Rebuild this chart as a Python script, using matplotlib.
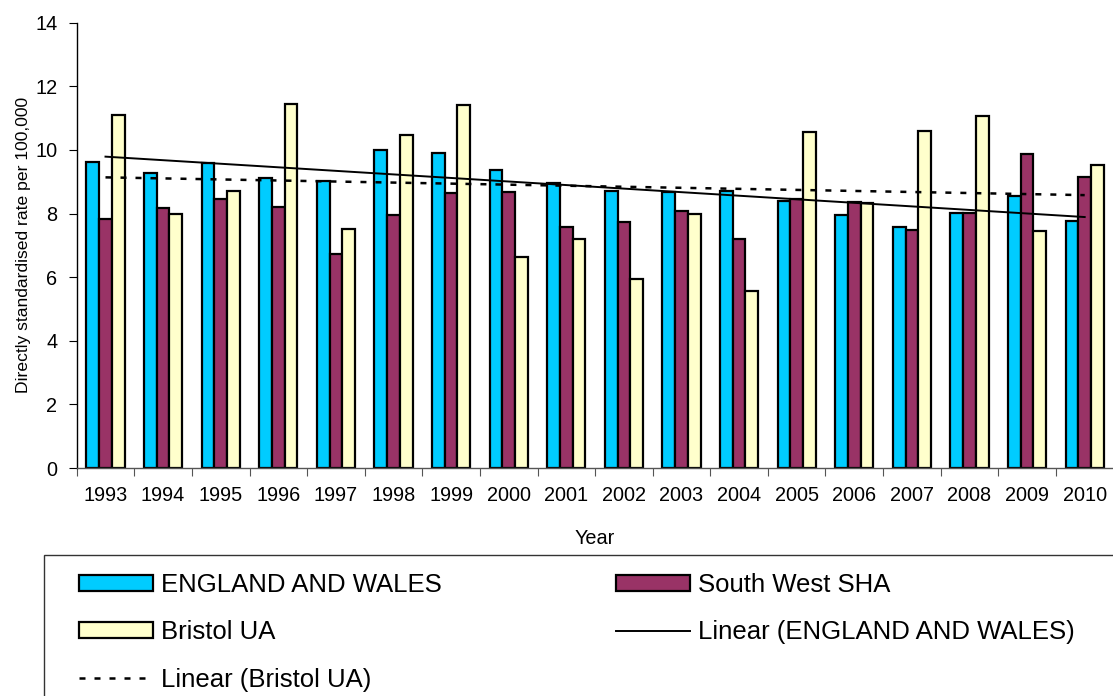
import numpy as np
import matplotlib.pyplot as plt
from matplotlib.patches import Rectangle

plt.rcParams['font.family'] = ['Liberation Sans', 'DejaVu Sans']

years = ['1993', '1994', '1995', '1996', '1997', '1998', '1999', '2000', '2001',
         '2002', '2003', '2004', '2005', '2006', '2007', '2008', '2009', '2010']
england_wales = [9.61, 9.26, 9.58, 9.11, 9.02, 9.99, 9.90, 9.36, 8.95,
                 8.70, 8.67, 8.71, 8.39, 7.94, 7.58, 8.03, 8.54, 7.77]
south_west = [7.84, 8.16, 8.46, 8.19, 6.72, 7.96, 8.64, 8.68, 7.59,
              7.72, 8.09, 7.20, 8.46, 8.35, 7.48, 8.03, 9.88, 9.16]
bristol = [11.10, 7.98, 8.71, 11.44, 7.51, 10.46, 11.42, 6.63, 7.20,
           5.94, 7.97, 5.56, 10.57, 8.34, 10.58, 11.06, 7.45, 9.53]

W, H = 1113, 696
fig = plt.figure(figsize=(W / 100, H / 100), dpi=100)
ax = fig.add_axes([76.7 / W, 1 - 468 / H, 1036.8 / W, 445.3 / H])

x = np.arange(len(years))
bw = 0.22
b_ew = ax.bar(x - bw, england_wales, bw, color='#00CCFF', edgecolor='black', linewidth=1.6)
b_sw = ax.bar(x, south_west, bw, color='#993366', edgecolor='black', linewidth=1.6)
b_br = ax.bar(x + bw, bristol, bw, color='#FFFFCC', edgecolor='black', linewidth=1.6)

# linear trend lines through the category centres
k, c = np.polyfit(x, england_wales, 1)
l_ew, = ax.plot(x, k * x + c, color='black', lw=1.4)
k, c = np.polyfit(x, bristol, 1)
l_br, = ax.plot(x, k * x + c, color='black', lw=1.8, dashes=(2.4, 3.6))

ax.set_xlim(-0.5, len(years) - 0.5)
ax.set_ylim(0, 14)
ax.set_yticks(np.arange(0, 15, 2))
ax.tick_params(axis='y', labelsize=14.3, length=6, direction='out', pad=8)

# tick marks between groups, labels centred under them
ax.set_xticks(np.arange(len(years) + 1) - 0.5)
ax.set_xticklabels([])
ax.set_xticks(x, minor=True)
ax.set_xticklabels(years, minor=True, fontsize=14.3)
ax.tick_params(axis='x', which='major', length=6, color='#555555')
ax.tick_params(axis='x', which='minor', length=0, pad=13)

for s in ['top', 'right']:
    ax.spines[s].set_visible(False)
ax.spines['left'].set_linewidth(1.0)
ax.spines['bottom'].set_color('#555555')
ax.spines['bottom'].set_linewidth(1.0)

ax.set_ylabel('Directly standardised rate per 100,000', fontsize=12.6, labelpad=3)
ax.set_xlabel('Year', fontsize=14.3, labelpad=17)

# legend frame running off the page edges
fig.patches.append(Rectangle((44 / W, -0.1), 1.0, 0.1 + 1 - 555 / H, transform=fig.transFigure,
                             facecolor='none', edgecolor='#333333', lw=1.0))

leg_kw = dict(frameon=False, fontsize=18.5, loc='upper left', borderpad=0,
              handlelength=2.88, handleheight=0.58, handletextpad=0.3, labelspacing=0.91)
leg1 = fig.legend([b_ew, b_br, l_br], ['ENGLAND AND WALES', 'Bristol UA', 'Linear (Bristol UA)'],
                  bbox_to_anchor=(66 / W, 1 - 560 / H), **leg_kw)
leg2 = fig.legend([b_sw, l_ew], ['South West SHA', 'Linear (ENGLAND AND WALES)'],
                  bbox_to_anchor=(603 / W, 1 - 560 / H), **leg_kw)

fig.savefig('out.png', dpi=100)
